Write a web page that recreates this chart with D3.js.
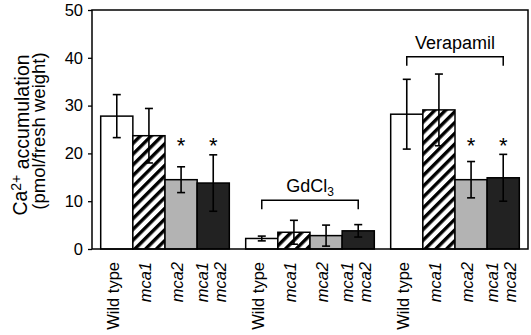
<!DOCTYPE html>
<html>
<head>
<meta charset="utf-8">
<script src="https://cdn.jsdelivr.net/npm/d3@7"></script>
<style>
  body { margin: 0; background: #fff; }
  text { font-family: "Liberation Sans", Arial, sans-serif; fill: #000; }
</style>
</head>
<body>
<script>
  // treatments and genotypes
  var groups = ["Control", "GdCl3", "Verapamil"];
  var genotypes = ["Wild type", "mca1", "mca2", "mca1 mca2"];

  // mean Ca2+ accumulation per treatment (same order as genotypes)
  var meansControl = [27.8, 23.7, 14.5, 13.8];
  var meansGd = [2.2, 3.5, 2.8, 3.8];
  var meansVerapamil = [28.2, 29.1, 14.5, 14.9];

  // error bars (+/-)
  var errControl = [4.5, 5.7, 2.7, 5.9];
  var errGd = [0.5, 2.5, 2.2, 1.3];
  var errVerapamil = [7.3, 7.5, 3.8, 4.9];

  // significance marks (genotype index) and bracket labels
  var starsControl = [2, 3];
  var starsVerapamil = [2, 3];
  var starLevel = 21.7;
  var bracketGd = {label: "GdCl", sub: "3", level: 10.2};
  var bracketVerapamil = {label: "Verapamil", sub: "", level: 40.2};

  var yTicks = [0, 10, 20, 30, 40, 50];

  var w = 531, h = 335;
  var margin = {top: 10, left: 92, right: 3, bottom: 86};
  var width = w - margin.left - margin.right;
  var height = h - margin.top - margin.bottom;

  var fills = {"Wild type": "#fff", "mca1": "url(#hatch)", "mca2": "#b3b3b3", "mca1 mca2": "#222"};

  var data = [];
  [[meansControl, errControl], [meansGd, errGd], [meansVerapamil, errVerapamil]].forEach(function(p, gi){
    genotypes.forEach(function(g, i){
      data.push({group: groups[gi], geno: g, value: p[0][i], err: p[1][i]});
    });
  });

  var svg = d3.select("body").append("svg")
              .attr("width", w)
              .attr("height", h);

  var defs = svg.append("defs");
  var pat = defs.append("pattern")
      .attr("id", "hatch")
      .attr("patternUnits", "userSpaceOnUse")
      .attr("width", 7.6)
      .attr("height", 10)
      .attr("patternTransform", "rotate(45)");
  pat.append("rect").attr("width", 7.6).attr("height", 10).attr("fill", "#fff");
  pat.append("rect").attr("width", 3.4).attr("height", 10).attr("fill", "#000");

  var chart = svg.append("g")
              .attr("transform", "translate(" + margin.left + "," + margin.top + ")");

  var x0 = d3.scaleBand().domain(groups).range([0, width])
             .paddingInner(0.113).paddingOuter(0.06);
  var x1 = d3.scaleBand().domain(genotypes).range([0, x0.bandwidth()]);
  var y = d3.scaleLinear().domain([0, 50]).range([height, 0]);

  function cx(d){ return x0(d.group) + x1(d.geno) + x1.bandwidth() / 2; }

  // y axis
  var yAxis = d3.axisLeft(y).tickValues(yTicks).tickSize(4).tickPadding(5);
  var ya = chart.append("g").call(yAxis);
  ya.select(".domain").remove();
  ya.selectAll("line").attr("stroke", "#000").attr("stroke-width", 1.3);
  ya.selectAll("text").style("font-size", "16.5px");

  // bars
  chart.selectAll(".bar")
      .data(data)
      .enter()
        .append("rect")
        .classed("bar", true)
        .attr("x", function(d){ return x0(d.group) + x1(d.geno); })
        .attr("width", x1.bandwidth())
        .attr("y", function(d){ return y(d.value); })
        .attr("height", function(d){ return height - y(d.value); })
        .attr("fill", function(d){ return fills[d.geno]; })
        .attr("stroke", "#000")
        .attr("stroke-width", 1.5);

  // error bars
  var eb = chart.selectAll(".err").data(data).enter().append("g").classed("err", true)
      .attr("stroke", "#000").attr("stroke-width", 1.6);
  eb.append("line")
    .attr("x1", cx).attr("x2", cx)
    .attr("y1", function(d){ return y(d.value + d.err); })
    .attr("y2", function(d){ return y(Math.max(0, d.value - d.err)); });
  [1, -1].forEach(function(s){
    eb.append("line")
      .attr("x1", function(d){ return cx(d) - 4; })
      .attr("x2", function(d){ return cx(d) + 4; })
      .attr("y1", function(d){ return y(d.value + s * d.err); })
      .attr("y2", function(d){ return y(d.value + s * d.err); });
  });

  // asterisks
  var stars = starsControl.map(function(i){ return {group: groups[0], geno: genotypes[i]}; })
    .concat(starsVerapamil.map(function(i){ return {group: groups[2], geno: genotypes[i]}; }));
  chart.selectAll(".star").data(stars).enter().append("text")
    .attr("x", cx)
    .attr("y", y(starLevel) + 8)
    .attr("text-anchor", "middle")
    .style("font-size", "22px")
    .text("*");

  // brackets
  function bracket(group, b){
    var xa = x0(group) + x1(genotypes[0]) + x1.bandwidth() / 2;
    var xb = x0(group) + x1(genotypes[3]) + x1.bandwidth() / 2;
    var yl = y(b.level);
    chart.append("path")
      .attr("d", "M" + xa + "," + (yl + 9) + "V" + yl + "H" + xb + "V" + (yl + 9))
      .attr("fill", "none").attr("stroke", "#000").attr("stroke-width", 1.5);
    var t = chart.append("text")
      .attr("x", (xa + xb) / 2)
      .attr("y", yl - 8)
      .attr("text-anchor", "middle")
      .style("font-size", "18px")
      .text(b.label);
    if (b.sub) t.append("tspan").attr("dy", "0.3em").style("font-size", "12px").text(b.sub);
  }
  bracket(groups[1], bracketGd);
  bracket(groups[2], bracketVerapamil);

  // frame
  chart.append("rect")
    .attr("width", width).attr("height", height)
    .attr("fill", "none").attr("stroke", "#000").attr("stroke-width", 1.5);

  // x labels
  var xl = chart.selectAll(".xl").data(data).enter().append("text")
    .attr("text-anchor", "end")
    .attr("transform", function(d){ return "translate(" + (cx(d) + 2) + "," + (height + 13) + ") rotate(-90)"; })
    .style("font-size", "16.5px")
    .style("font-style", function(d){ return d.geno === "Wild type" ? "normal" : "italic"; });
  xl.each(function(d){
    var parts = d.geno.split(" ");
    var t = d3.select(this);
    if (d.geno === "Wild type" || parts.length === 1) {
      t.text(d.geno);
    } else {
      t.append("tspan").attr("x", 0).attr("y", -7).text(parts[0]);
      t.append("tspan").attr("x", 0).attr("y", 11).text(parts[1]);
    }
  });

  // y title
  var yt = svg.append("text")
    .attr("text-anchor", "middle")
    .attr("transform", "translate(27," + 135 + ") rotate(-90)")
    .style("font-size", "19.5px");
  yt.append("tspan").text("Ca");
  yt.append("tspan").attr("dy", "-0.45em").style("font-size", "14px").text("2+");
  yt.append("tspan").attr("dy", "0.45em").text(" accumulation");
  svg.append("text")
    .attr("text-anchor", "middle")
    .attr("transform", "translate(45," + 131 + ") rotate(-90)")
    .style("font-size", "18.5px")
    .text("(pmol/fresh weight)");
</script>
</body>
</html>
